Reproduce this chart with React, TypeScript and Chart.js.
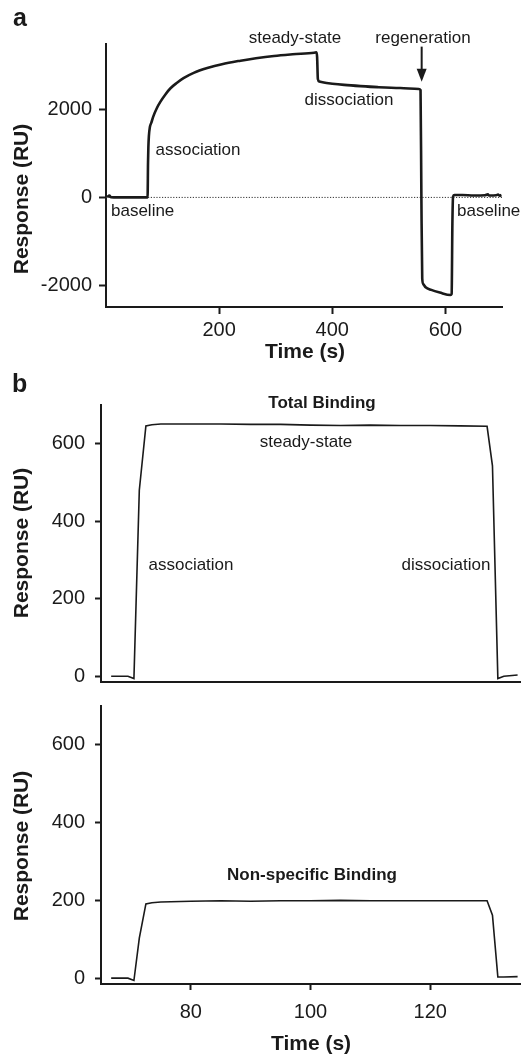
import { useEffect, useRef } from "react";
import { Chart, registerables } from "chart.js";

Chart.register(...registerables);

const FONT = '"Liberation Sans", Arial, Helvetica, sans-serif';
const INK = "#1a1a1a";

// ---------- Panel a: full sensorgram ----------
const TIME_A = [2, 6, 9, 20, 40, 60, 73.5, 74.3, 74.9, 75.8, 77.5, 80, 84, 90, 96, 105, 114, 125, 137, 155, 179, 205, 238, 265, 297, 330, 368, 372, 373.2, 374.5, 377, 385, 400, 421, 450, 480, 520, 553, 556, 557.5, 559, 561, 565, 575, 590, 609, 611, 612.3, 613.5, 616, 630, 650, 670, 675, 677, 690, 693, 696, 699];
const RESP_A = [10, 40, 5, 0, 0, 0, 0, 800, 1150, 1400, 1600, 1700, 1860, 2040, 2180, 2350, 2490, 2610, 2720, 2840, 2950, 3040, 3120, 3175, 3227, 3265, 3302, 3310, 3200, 2700, 2645, 2620, 2595, 2568, 2540, 2516, 2495, 2475, 2450, 0, -1850, -1980, -2050, -2110, -2170, -2227, -2200, -600, 20, 55, 55, 45, 50, 70, 45, 50, 65, 40, 55];
const ZERO_X = [0, 700];
const ZERO_Y = [0, 0];
const X_TICKS_A = [200, 400, 600];
const Y_TICKS_A = [-2000, 0, 2000];
const X_RANGE_A = [0, 700];
const Y_RANGE_A = [-2500, 3500];
const REGEN_T = 558;
const REGEN_FROM = 3440;
const REGEN_TO = 2640;

// ---------- Panel b: total vs non-specific binding ----------
const TIME_B = [66.7, 69.5, 70.5, 71.4, 72.5, 73.5, 75, 80, 85, 90, 95, 100, 105, 110, 115, 120, 125, 129.5, 130.4, 131.3, 132.3, 134.6];
const TOTAL_B = [0, 0, -6, 480, 646, 649, 651, 651, 651, 650, 650, 648, 647, 648, 647, 647, 646, 645, 543, -6, 0, 3];
const NONSPEC_B = [0, 0, -6, 103, 191, 194, 196, 198, 199, 198, 199, 199, 200, 199, 199, 199, 199, 199, 162, 3, 3, 4];
const X_TICKS_B = [80, 100, 120];
const Y_TICKS_B = [0, 200, 400, 600];
const X_RANGE_B = [65, 135];
const Y_RANGE_B = [-15, 700];

type TextSpec = {
  text: string;
  x: number;
  y: number;
  size: number;
  bold?: boolean;
  align?: CanvasTextAlign;
  rotate?: boolean;
};

function textPlugin(texts: TextSpec[], extra?: (chart: any) => void) {
  return {
    id: "texts",
    afterDraw(chart: any) {
      const ctx = chart.ctx as CanvasRenderingContext2D;
      ctx.save();
      ctx.fillStyle = INK;
      for (const t of texts) {
        ctx.font = `${t.bold ? "bold " : ""}${t.size}px ${FONT}`;
        ctx.textAlign = t.align ?? "center";
        if (t.rotate) {
          ctx.save();
          ctx.translate(t.x, t.y);
          ctx.rotate(-Math.PI / 2);
          ctx.textBaseline = "middle";
          ctx.fillText(t.text, 0, 0);
          ctx.restore();
        } else {
          ctx.textBaseline = "alphabetic";
          ctx.fillText(t.text, t.x, t.y);
        }
      }
      if (extra) extra(chart);
      ctx.restore();
    },
  };
}

type AxisOpts = {
  range: number[];
  ticks: number[];
  tickLength: number;
  padding: number;
  show: boolean;
  fit: (s: any) => void;
};

function axis(o: AxisOpts) {
  return {
    type: "linear",
    min: o.range[0],
    max: o.range[1],
    afterBuildTicks: (s: any) => {
      s.ticks = o.show ? o.ticks.map((v) => ({ value: v })) : [];
    },
    afterFit: (s: any) => {
      o.fit(s);
      s.paddingTop = 0;
      s.paddingBottom = 0;
      s.paddingLeft = 0;
      s.paddingRight = 0;
    },
    grid: {
      display: o.show,
      drawOnChartArea: false,
      drawTicks: true,
      tickLength: o.tickLength,
      tickWidth: 2,
      tickColor: INK,
    },
    border: { display: true, color: INK, width: 2 },
    ticks: {
      display: o.show,
      color: INK,
      font: { family: FONT, size: 20 },
      padding: o.padding,
      autoSkip: false,
      maxRotation: 0,
      callback: (v: any) => String(v),
    },
  };
}

function pts(xs: number[], ys: number[]) {
  return xs.map((x, i) => ({ x, y: ys[i] }));
}

function baseOptions(
  canvasH: number,
  area: { left: number; right: number; top: number; bottom: number },
  xr: number[],
  xt: number[],
  showX: boolean,
  xpad: number,
  yr: number[],
  yt: number[],
  tick: number,
  ypad: number
) {
  return {
    responsive: false,
    animation: false,
    devicePixelRatio: 1,
    layout: { padding: { left: 0, top: area.top, right: 522 - area.right, bottom: 0 } },
    plugins: { legend: { display: false }, tooltip: { enabled: false } },
    elements: { point: { radius: 0 } },
    scales: {
      x: axis({
        range: xr,
        ticks: xt,
        tickLength: tick,
        padding: xpad,
        show: showX,
        fit: (s: any) => {
          s.height = canvasH - area.bottom;
        },
      }),
      y: axis({
        range: yr,
        ticks: yt,
        tickLength: tick,
        padding: ypad,
        show: true,
        fit: (s: any) => {
          s.width = area.left;
        },
      }),
    },
  };
}

export default function App() {
  const refA = useRef<HTMLCanvasElement>(null);
  const refB1 = useRef<HTMLCanvasElement>(null);
  const refB2 = useRef<HTMLCanvasElement>(null);

  useEffect(() => {
    const charts: Chart[] = [];

    // Panel a
    const textsA: TextSpec[] = [
      { text: "a", x: 13, y: 26, size: 25, bold: true, align: "left" },
      { text: "steady-state", x: 295, y: 43, size: 17 },
      { text: "regeneration", x: 423, y: 43, size: 17 },
      { text: "dissociation", x: 349, y: 105, size: 17 },
      { text: "association", x: 198, y: 155, size: 17 },
      { text: "baseline", x: 111, y: 216, size: 17, align: "left" },
      { text: "baseline", x: 457, y: 216, size: 17, align: "left" },
      { text: "Response (RU)", x: 22, y: 199, size: 21, bold: true, rotate: true },
      { text: "Time (s)", x: 305, y: 358, size: 21, bold: true },
    ];
    const arrow = (chart: any) => {
      const ctx = chart.ctx as CanvasRenderingContext2D;
      const ax = chart.scales.x.getPixelForValue(REGEN_T);
      const y0 = chart.scales.y.getPixelForValue(REGEN_FROM);
      const y1 = chart.scales.y.getPixelForValue(REGEN_TO);
      ctx.strokeStyle = INK;
      ctx.fillStyle = INK;
      ctx.lineWidth = 2;
      ctx.beginPath();
      ctx.moveTo(ax, y0);
      ctx.lineTo(ax, y1 - 10);
      ctx.stroke();
      ctx.beginPath();
      ctx.moveTo(ax - 5, y1 - 13);
      ctx.lineTo(ax + 5, y1 - 13);
      ctx.lineTo(ax, y1);
      ctx.closePath();
      ctx.fill();
    };
    if (refA.current) {
      charts.push(
        new Chart(refA.current, {
          type: "line",
          data: {
            datasets: [
              {
                data: pts(TIME_A, RESP_A),
                borderColor: INK,
                borderWidth: 2.6,
                borderJoinStyle: "round",
                cubicInterpolationMode: "monotone",
                order: 0,
              },
              {
                data: pts(ZERO_X, ZERO_Y),
                borderColor: "#333",
                borderWidth: 1,
                borderDash: [1.2, 1.6],
                order: 1,
              },
            ],
          },
          options: baseOptions(370, { left: 106, right: 502, top: 44, bottom: 307 }, X_RANGE_A, X_TICKS_A, true, 4, Y_RANGE_A, Y_TICKS_A, 7, 7) as any,
          plugins: [textPlugin(textsA, arrow)],
        } as any)
      );
    }

    // Panel b top: total binding
    const textsB1: TextSpec[] = [
      { text: "b", x: 12, y: 22, size: 25, bold: true, align: "left" },
      { text: "Total Binding", x: 322, y: 38, size: 17, bold: true },
      { text: "steady-state", x: 306, y: 77, size: 17 },
      { text: "association", x: 191, y: 200, size: 17 },
      { text: "dissociation", x: 446, y: 200, size: 17 },
      { text: "Response (RU)", x: 22, y: 173, size: 21, bold: true, rotate: true },
    ];
    if (refB1.current) {
      charts.push(
        new Chart(refB1.current, {
          type: "line",
          data: {
            datasets: [
              { data: pts(TIME_B, TOTAL_B), borderColor: INK, borderWidth: 1.6, tension: 0 },
            ],
          },
          options: baseOptions(325, { left: 101, right: 520, top: 35, bottom: 312 }, X_RANGE_B, X_TICKS_B, false, 4, Y_RANGE_B, Y_TICKS_B, 6, 10) as any,
          plugins: [textPlugin(textsB1)],
        } as any)
      );
    }

    // Panel b bottom: non-specific binding
    const textsB2: TextSpec[] = [
      { text: "Non-specific Binding", x: 312, y: 185, size: 17, bold: true },
      { text: "Response (RU)", x: 22, y: 151, size: 21, bold: true, rotate: true },
      { text: "Time (s)", x: 311, y: 355, size: 21, bold: true },
    ];
    if (refB2.current) {
      charts.push(
        new Chart(refB2.current, {
          type: "line",
          data: {
            datasets: [
              { data: pts(TIME_B, NONSPEC_B), borderColor: INK, borderWidth: 1.6, tension: 0 },
            ],
          },
          options: baseOptions(360, { left: 101, right: 520, top: 11, bottom: 289 }, X_RANGE_B, X_TICKS_B, true, 10, Y_RANGE_B, Y_TICKS_B, 6, 10) as any,
          plugins: [textPlugin(textsB2)],
        } as any)
      );
    }

    return () => {
      charts.forEach((c) => c.destroy());
    };
  }, []);

  return (
    <div style={{ position: "absolute", left: 0, top: 0, width: 522, height: 1055, background: "#fff" }}>
      <canvas ref={refA} width={522} height={370} style={{ position: "absolute", left: 0, top: 0 }} />
      <canvas ref={refB1} width={522} height={325} style={{ position: "absolute", left: 0, top: 370 }} />
      <canvas ref={refB2} width={522} height={360} style={{ position: "absolute", left: 0, top: 695 }} />
    </div>
  );
}
